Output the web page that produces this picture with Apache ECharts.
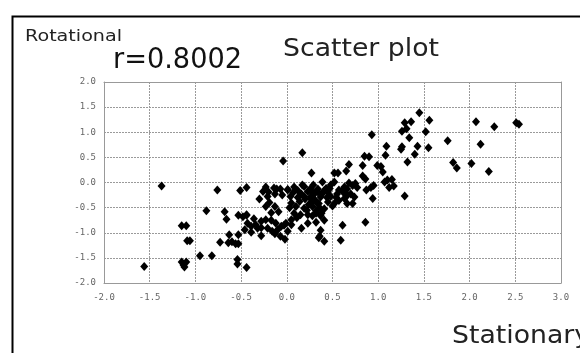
<!DOCTYPE html>
<html><head><meta charset="utf-8">
<script src="https://cdn.jsdelivr.net/npm/echarts@6/dist/echarts.min.js"></script>
<style>html,body{margin:0;padding:0;background:#fff}#c{width:580px;height:353px}</style>
</head><body><div id="c"></div>
<script>
// Stationary (x) values
const stationary = [
 1.45,1.56,1.36,1.29,1.31,1.26,1.34,1.52,0.93,2.07,2.27,2.51,2.54,1.76,2.12,1.09,1.26,1.25,1.43,1.55,
 1.40,1.08,1.32,1.82,1.86,2.02,2.21,0.17,-0.04,0.85,0.90,0.83,0.68,0.65,0.52,0.56,0.27,0.99,1.03,1.05,
 1.10,1.15,1.07,1.12,1.17,1.29,0.94,0.83,0.86,0.95,0.92,0.87,0.39,0.68,0.72,0.75,0.77,
 0.01,0.08,0.17,0.26,0.34,0.43,0.48,0.52,0.57,0.63,0.66,0.72,
 -1.37,-0.76,-0.51,-0.44,-0.88,-0.68,-0.66,-0.53,-0.44,-1.15,-1.10,-1.09,-1.06,-0.73,-0.63,-0.53,-0.64,-0.60,-0.56,-0.53,
 -0.95,-0.82,-1.15,-1.10,-1.13,-1.12,-1.56,-0.54,-0.54,-0.44,
 -0.23,-0.20,-0.14,-0.11,-0.21,-0.13,-0.05,-0.07,0.01,0.04,0.12,0.16,0.19,0.19,0.23,0.27,0.30,0.33,0.14,0.05,
 0.10,0.19,0.28,0.32,0.15,0.08,0.23,0.16,0.05,-0.01,-0.06,-0.12,-0.17,-0.23,-0.28,-0.34,-0.39,-0.43,-0.46,-0.44,
 -0.48,-0.39,-0.32,-0.28,-0.21,-0.16,-0.13,-0.10,-0.07,-0.02,0.01,-0.03,0.05,0.23,0.38,0.36,-0.26,-0.30,-0.23,-0.19,-0.13,
 0.34,0.41,0.45,0.30,0.26,0.37,0.48,0.55,0.61,0.66,0.70,0.63,0.57,0.52,0.45,0.35,0.41,0.37,0.41,0.32,
 0.28,0.37,0.35,0.41,0.61,0.59,0.86,0.26,0.28,0.32,0.74,0.66,0.66,
 0.20,0.24,0.31,0.36,0.44,0.50,0.12,0.07,-0.09,-0.17,0.39,0.47,0.29,0.22,0.03,-0.28,-0.36,0.11,0.54,0.62
];
// Rotational (y) values
const rotational = [
 1.39,1.24,1.21,1.19,1.07,1.02,0.89,1.01,0.95,1.21,1.11,1.19,1.16,0.83,0.76,0.72,0.71,0.66,0.72,0.69,
 0.56,0.54,0.41,0.40,0.29,0.38,0.22,0.59,0.43,0.52,0.51,0.34,0.36,0.23,0.19,0.19,0.19,0.34,0.32,0.21,
 0.05,0.06,0.01,-0.10,-0.07,-0.27,-0.32,0.13,0.07,-0.06,-0.10,-0.15,0.01,-0.01,-0.06,-0.02,-0.10,
 -0.14,-0.09,-0.05,-0.12,-0.19,-0.12,-0.05,0.01,-0.15,-0.09,-0.25,-0.42,
 -0.07,-0.15,-0.16,-0.10,-0.56,-0.58,-0.73,-0.65,-0.65,-0.86,-0.86,-1.16,-1.16,-1.19,-1.04,-1.04,-1.20,-1.18,-1.22,-1.22,
 -1.46,-1.46,-1.58,-1.58,-1.64,-1.68,-1.67,-1.53,-1.62,-1.69,
 -0.09,-0.19,-0.11,-0.13,-0.28,-0.23,-0.25,-0.13,-0.15,-0.28,-0.16,-0.23,-0.08,-0.28,-0.18,-0.34,-0.21,-0.41,-0.38,-0.41,
 -0.48,-0.51,-0.48,-0.61,-0.64,-0.61,-0.81,-0.91,-0.74,-0.81,-0.87,-0.81,-0.75,-0.74,-0.77,-0.84,-0.87,-0.81,-0.94,-0.64,
 -0.68,-0.99,-0.91,-1.06,-0.91,-0.97,-1.02,-0.94,-1.07,-1.13,-0.97,-0.85,-0.84,-0.64,-0.61,-1.07,-0.18,-0.33,-0.48,-0.40,-0.48,
 -0.13,-0.16,-0.19,-0.23,-0.29,-0.29,-0.28,-0.23,-0.16,-0.13,-0.23,-0.32,-0.36,-0.42,-0.39,-0.42,-0.52,-0.66,-0.75,-0.56,
 -0.66,-0.95,-1.10,-1.17,-0.85,-1.15,-0.79,-0.16,-0.39,-0.79,-0.29,-0.26,-0.42,
 -0.33,-0.44,-0.35,-0.50,-0.30,-0.47,-0.30,-0.20,-0.58,-0.60,-0.22,-0.12,-0.05,-0.55,-0.50,-0.90,-0.72,-0.70,-0.30,-0.20
];
const xTickLabels = ['-2.0','-1.5','-1.0','-0.5','0.0','0.5','1.0','1.5','2.0','2.5','3.0'];
const yTickLabels = ['-2.0','-1.5','-1.0','-0.5','0.0','0.5','1.0','1.5','2.0'];
const xName = 'Stationary';
const yName = 'Rotational';
const corrText = 'r=0.8002';
const chartTitle = 'Scatter plot';

const points = stationary.map((x, i) => [x, rotational[i]]);
const ctx = document.createElement('canvas').getContext('2d');
const FONT = '"DejaVu Sans"';
function widthOf(t, s) { ctx.font = s + 'px ' + FONT; return ctx.measureText(t).width; }
const titleScale = 156 / widthOf(chartTitle, 25);

const chart = echarts.init(document.getElementById('c'), null, {renderer: 'canvas'});
const tickFmt = (arr, min) => v => { const i = Math.round((v - min) / 0.5); return arr[i] !== undefined ? arr[i] : ''; };
const gridLine = {show: true, showMinLine: true, showMaxLine: true, lineStyle: {color: '#9a9a9a', type: [2, 1], width: 1}};
const borderAxis = (pos) => ({
  type: 'value', position: pos, min: -2, max: pos === 'top' ? 3 : 2, interval: 0.5,
  axisLine: {show: true, onZero: false, lineStyle: {color: '#999'}},
  axisTick: {show: false}, axisLabel: {show: false}, splitLine: {show: false}
});
chart.setOption({
  animation: false,
  backgroundColor: '#fff',
  grid: {left: 104, right: 19, top: 82, bottom: 70},
  xAxis: [{
    type: 'value', min: -2, max: 3, interval: 0.5, position: 'bottom',
    axisLine: {show: true, onZero: false, lineStyle: {color: '#999'}},
    axisTick: {show: false},
    axisLabel: {margin: 10, color: '#666', fontSize: 9, fontFamily: '"DejaVu Sans Mono"', formatter: tickFmt(xTickLabels, -2)},
    splitLine: gridLine
  }, borderAxis('top')],
  yAxis: [{
    type: 'value', min: -2, max: 2, interval: 0.5, position: 'left',
    axisLine: {show: true, onZero: false, lineStyle: {color: '#999'}},
    axisTick: {show: false},
    axisLabel: {margin: 8, color: '#666', fontSize: 9, fontFamily: '"DejaVu Sans Mono"', formatter: tickFmt(yTickLabels, -2)},
    splitLine: gridLine
  }, borderAxis('right')],
  series: [{
    type: 'scatter', data: points, symbol: 'diamond', symbolSize: [8, 9],
    itemStyle: {color: '#000', opacity: 1}
  }],
  graphic: [
    {type: 'rect', left: 10, top: 14, shape: {x: 0, y: 0, width: 620, height: 400}, style: {fill: 'none', stroke: '#000', lineWidth: 2}, z: 100},
    {type: 'text', x: 25, y: 37, scaleX: 97 / widthOf(yName, 16), style: {text: yName, font: '16px ' + FONT, fill: '#222', textVerticalAlign: 'middle'}},
    {type: 'text', x: 113, y: 61, scaleX: 129 / widthOf(corrText, 28), style: {text: corrText, font: '28px ' + FONT, fill: '#111', textVerticalAlign: 'middle'}},
    {type: 'text', x: 283, y: 49, scaleX: titleScale, style: {text: chartTitle, font: '25px ' + FONT, fill: '#222', textVerticalAlign: 'middle'}},
    {type: 'text', x: 452, y: 336, scaleX: titleScale, style: {text: xName, font: '25px ' + FONT, fill: '#222', textVerticalAlign: 'middle'}}
  ]
});
</script></body></html>
